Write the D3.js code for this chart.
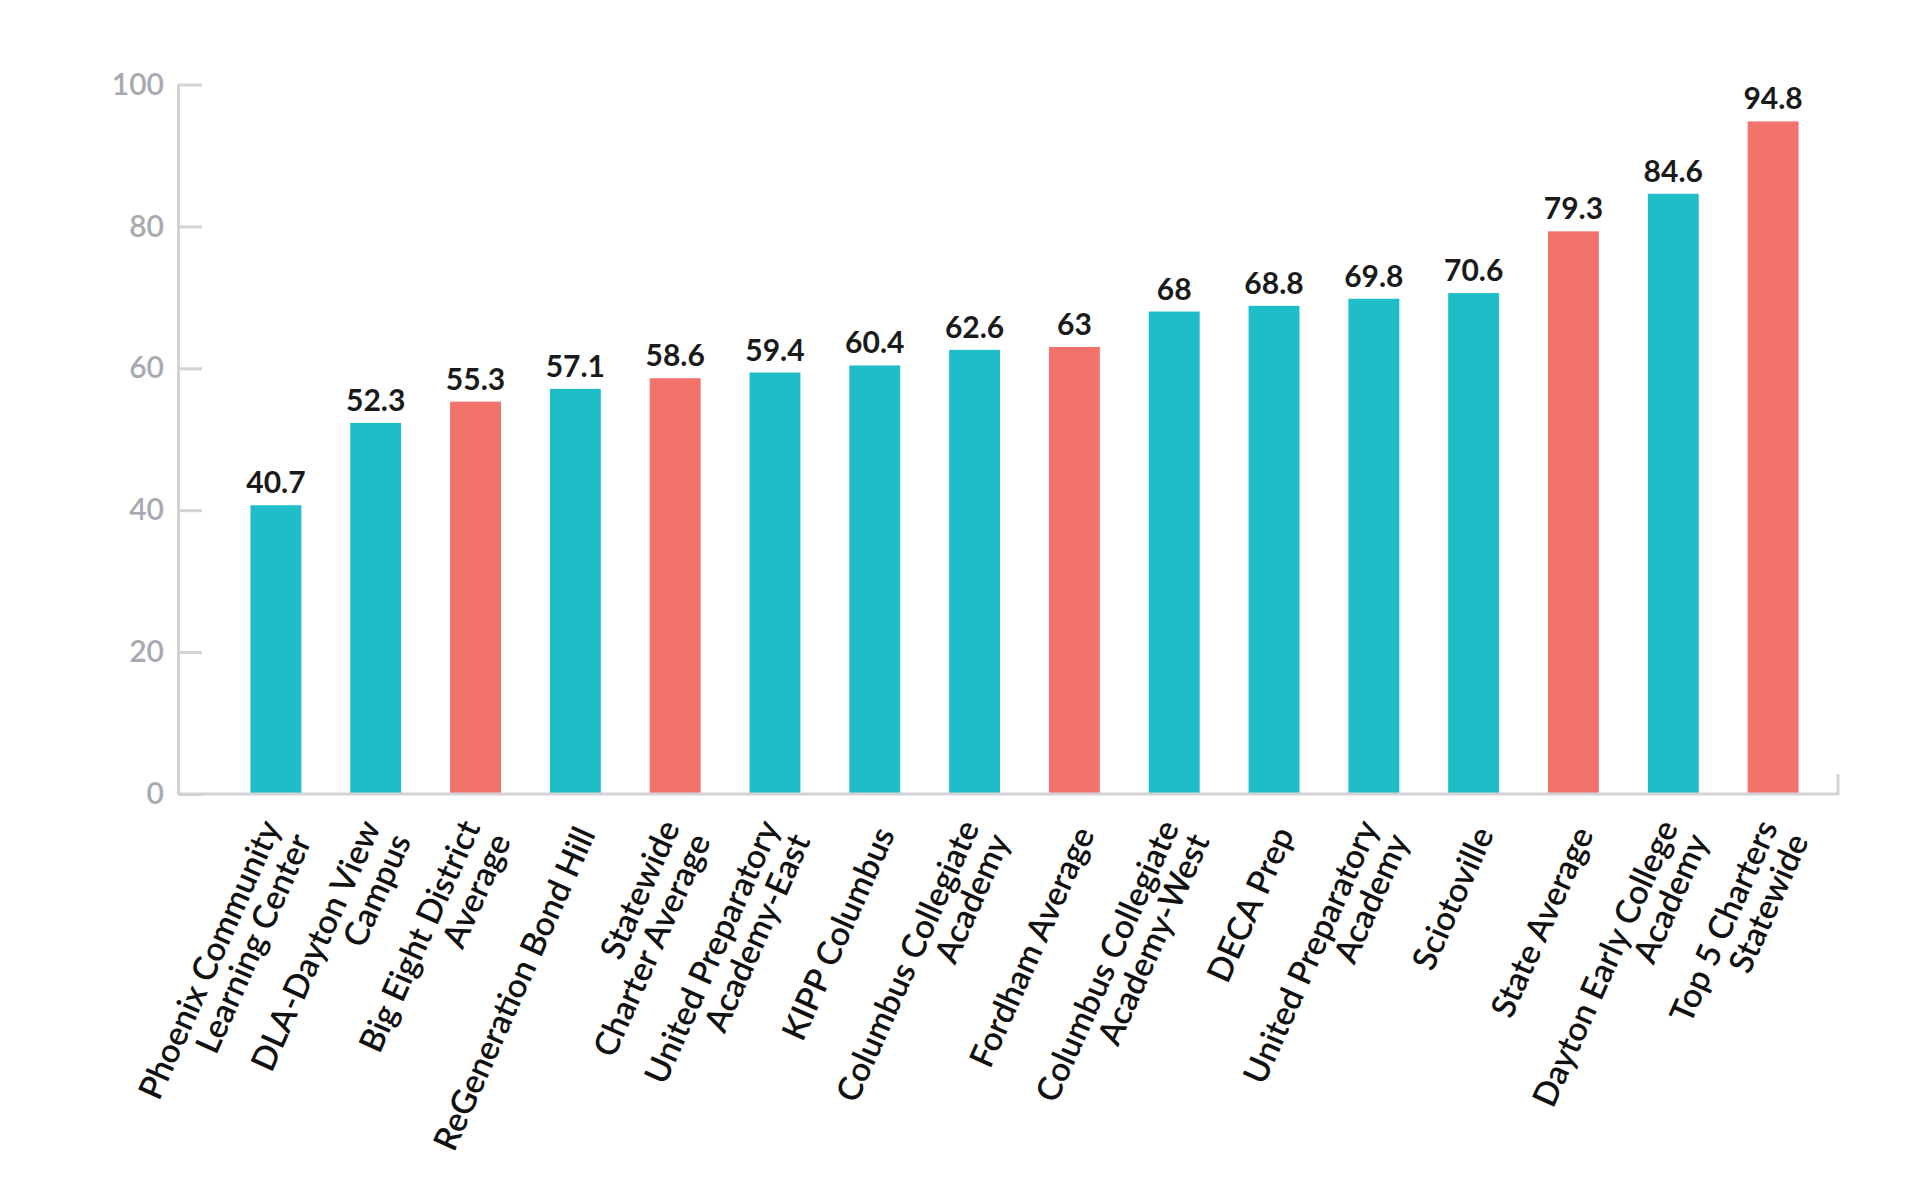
<!DOCTYPE html>
<html>
  <head>
    <meta charset="utf-8">
    <title>D3 Graphic</title>
    <script src="https://cdn.jsdelivr.net/npm/d3@7/dist/d3.min.js"></script>
    <style type="text/css">
      body { margin: 0; background: #fff; }
      svg text { font-family: Lato, "Noto Sans", sans-serif; }
    </style>
  </head>
  <body>
    <script>
    //Width and height
    var svgWidth = 1920;
    var svgHeight = 1200;

    //Data: school names (\n = line break), values, and which ones are benchmarks
    var schools = [
      "Phoenix Community\nLearning Center",
      "DLA-Dayton View\nCampus",
      "Big Eight District\nAverage",
      "ReGeneration Bond Hill",
      "Statewide\nCharter Average",
      "United Preparatory\nAcademy-East",
      "KIPP Columbus",
      "Columbus Collegiate\nAcademy",
      "Fordham Average",
      "Columbus Collegiate\nAcademy-West",
      "DECA Prep",
      "United Preparatory\nAcademy",
      "Sciotoville",
      "State Average",
      "Dayton Early College\nAcademy",
      "Top 5 Charters\nStatewide"
    ];
    var values = [40.7, 52.3, 55.3, 57.1, 58.6, 59.4, 60.4, 62.6, 63, 68, 68.8, 69.8, 70.6, 79.3, 84.6, 94.8];
    var kinds = ["school", "school", "average", "school", "average", "school", "school", "school",
                 "average", "school", "school", "school", "school", "average", "school", "average"];
    var yTicks = [0, 20, 40, 60, 80, 100];

    var dataset = schools.map(function(s, i) {
      return { name: s, value: values[i], kind: kinds[i] };
    });

    var axisX = 178;

    //Scales
    var xScale = d3.scaleBand()
      .domain(schools)
      .range([226, 1823])
      .paddingInner(0.49)
      .paddingOuter(0.245);

    var yScale = d3.scaleLinear()
      .domain([0, 100])
      .range([794, 84.5]);

    var color = d3.scaleOrdinal()
      .domain(["school", "average"])
      .range(["#1ebdc8", "#f2726c"]);

    //Create SVG element
    var svg = d3.select("body")
      .append("svg")
        .attr("width", svgWidth)
        .attr("height", svgHeight);

    //Bars
    svg.selectAll("rect.bar")
      .data(dataset)
      .enter()
      .append("rect")
      .attr("class", "bar")
      .attr("x", function(d) { return xScale(d.name); })
      .attr("width", xScale.bandwidth())
      .attr("y", function(d) { return yScale(d.value); })
      .attr("height", function(d) { return yScale(0) - yScale(d.value); })
      .attr("fill", function(d) { return color(d.kind); });

    //Value labels
    svg.selectAll("text.value")
      .data(dataset)
      .enter()
      .append("text")
      .attr("class", "value")
      .attr("x", function(d) { return xScale(d.name) + xScale.bandwidth() / 2; })
      .attr("y", function(d) { return yScale(d.value) - 12; })
      .attr("text-anchor", "middle")
      .attr("font-size", "30px")
      .attr("font-weight", 700)
      .attr("fill", "#1a1a1a")
      .text(function(d) { return d.value; });

    //Y axis (ticks point inward)
    var yAxis = d3.axisLeft(yScale)
      .tickValues(yTicks)
      .tickSize(-24)
      .tickSizeOuter(0)
      .tickPadding(14);

    svg.append("g")
      .attr("transform", "translate(" + axisX + ",0)")
      .call(yAxis)
      .call(function(g) {
        g.selectAll("line, path").attr("stroke", "#d3d3d7").attr("stroke-width", 3);
        g.selectAll("text")
          .attr("fill", "#a9a9b1")
          .attr("font-size", "30px")
          .attr("font-weight", 600);
      });

    //Baseline with small end tick
    var xEnd = xScale.range()[1] + 15;
    svg.append("path")
      .attr("d", "M" + axisX + "," + yScale(0) + "H" + xEnd + "V" + (yScale(0) - 20))
      .attr("fill", "none")
      .attr("stroke", "#d3d3d7")
      .attr("stroke-width", 3);

    //X axis labels, rotated and split into lines
    var xAxis = d3.axisBottom(xScale).tickSize(0).tickPadding(0);
    var gx = svg.append("g")
      .attr("transform", "translate(0," + yScale(0) + ")")
      .call(xAxis);
    gx.select(".domain").remove();

    var lineHeight = 1.0; // em
    gx.selectAll(".tick text").each(function(d) {
      var lines = d.split("\n");
      var t = d3.select(this)
        .text(null)
        .attr("y", null)
        .attr("dy", null)
        .attr("text-anchor", "end")
        .attr("font-size", "33.5px")
        .attr("font-weight", 600)
        .attr("fill", "#111")
        .attr("transform", "translate(10,35) rotate(-66)");
      lines.forEach(function(line, i) {
        t.append("tspan")
          .attr("x", 0)
          .attr("dy", i === 0 ? (0.35 - (lines.length - 1) * lineHeight / 2) + "em" : lineHeight + "em")
          .text(line);
      });
    });
    </script>
  </body>
</html>
